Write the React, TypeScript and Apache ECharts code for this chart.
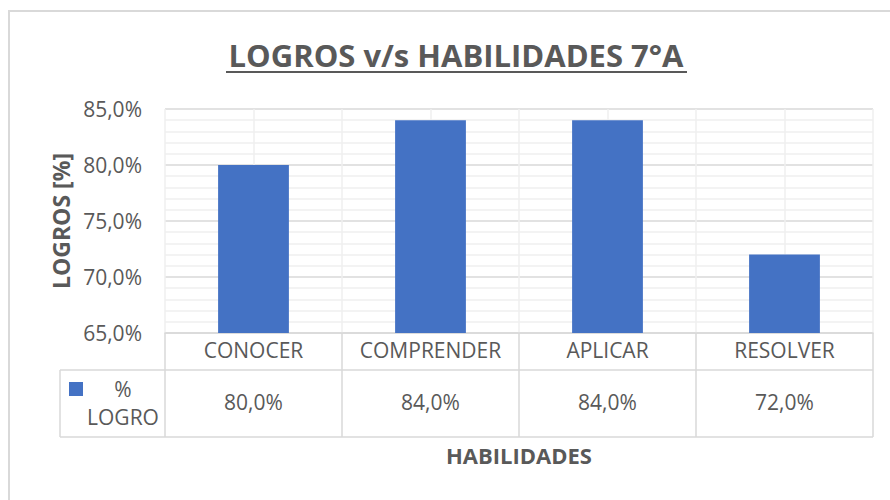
import React, { useEffect, useRef } from "react";
import * as echarts from "echarts";

const categories = ["CONOCER", "COMPRENDER", "APLICAR", "RESOLVER"];
const logro = [80.0, 84.0, 84.0, 72.0];
const seriesName = "% LOGRO";
const yMin = 65;
const yMax = 85;
const yStep = 5;

const TXT = "#595959";
const GRID_MAJOR = "#d9d9d9";
const GRID_MINOR = "#efefef";
const BAR = "#4472C4";
const FONT = "'Open Sans', 'Noto Sans', sans-serif";
const TITLE_FONT = "'Open Sans', 'Noto Sans', sans-serif";

const fmt = (v: number) => v.toFixed(1).replace(".", ",") + "%";

export default function App() {
  const ref = useRef<HTMLDivElement>(null);
  useEffect(() => {
    if (!ref.current) return;
    const chart = echarts.init(ref.current, undefined, { renderer: "svg" });
    const gl = 165, gr = 17, gt = 109, gb = 167;
    const plotRight = 890 - gr;
    chart.setOption({
      animation: false,
      backgroundColor: "#ffffff",
      grid: { left: gl, right: gr, top: gt, bottom: gb },
      xAxis: [
        {
          type: "category",
          data: categories,
          position: "bottom",
          axisLine: { show: true, lineStyle: { color: GRID_MAJOR, width: 1.5 } },
          axisTick: { show: true, interval: 0, length: 104, lineStyle: { color: GRID_MAJOR, width: 1.5 } },
          axisLabel: { margin: 6, fontSize: 21, color: TXT, fontFamily: FONT, interval: 0 },
          splitLine: { show: false },
          name: "HABILIDADES",
          nameLocation: "middle",
          nameGap: 111,
          nameTextStyle: { fontSize: 22, fontWeight: "bold", color: TXT, fontFamily: FONT },
        },
        {
          type: "category",
          data: categories,
          position: "bottom",
          axisLine: { show: false },
          axisTick: { show: false },
          axisLabel: {
            margin: 58,
            fontSize: 21,
            color: TXT,
            fontFamily: FONT,
            interval: 0,
            formatter: (_v: string, i: number) => fmt(logro[i]),
          },
          splitLine: { show: false },
        },
        {
          type: "value",
          min: 0,
          max: categories.length * 2,
          interval: 1,
          position: "top",
          axisLine: { show: false },
          axisTick: { show: false },
          axisLabel: { show: false },
          splitLine: { show: true, lineStyle: { color: GRID_MINOR, width: 1.5 } },
        },
      ],
      yAxis: {
        type: "value",
        min: yMin,
        max: yMax,
        interval: yStep,
        axisLine: { show: false },
        axisTick: { show: false },
        axisLabel: { margin: 23, fontSize: 21, color: TXT, fontFamily: FONT, formatter: (v: number) => fmt(v) },
        splitLine: { show: true, lineStyle: { color: GRID_MAJOR, width: 1.5 } },
        minorTick: { show: false, splitNumber: 5 },
        minorSplitLine: { show: true, lineStyle: { color: GRID_MINOR, width: 1.5 } },
        name: "LOGROS [%]",
        nameLocation: "middle",
        nameRotate: 90,
        nameGap: 93,
        nameTextStyle: { fontSize: 23, fontWeight: "bold", color: TXT, fontFamily: FONT },
      },
      series: [
        {
          name: seriesName,
          type: "bar",
          xAxisIndex: 0,
          data: logro,
          barWidth: "40%",
          itemStyle: { color: BAR },
        },
      ],
      graphic: [
        {
          type: "rect",
          shape: { x: 9, y: 11, width: 900, height: 520 },
          style: { fill: "none", stroke: GRID_MAJOR, lineWidth: 2 },
          silent: true,
        },
        {
          type: "text",
          x: 456,
          y: 55,
          style: {
            text: "LOGROS v/s HABILIDADES 7°A",
            fontSize: 31,
            fontWeight: "bold",
            fontFamily: TITLE_FONT,
            fill: TXT,
            align: "center",
            verticalAlign: "middle",
          },
        },
        {
          type: "line",
          shape: { x1: 226, y1: 72, x2: 687, y2: 72 },
          style: { stroke: TXT, lineWidth: 2 },
        },
        {
          type: "line",
          shape: { x1: 60, y1: 370, x2: plotRight, y2: 370 },
          style: { stroke: GRID_MAJOR, lineWidth: 1.5 },
        },
        {
          type: "line",
          shape: { x1: 60, y1: 437, x2: plotRight, y2: 437 },
          style: { stroke: GRID_MAJOR, lineWidth: 1.5 },
        },
        {
          type: "line",
          shape: { x1: 60, y1: 370, x2: 60, y2: 437 },
          style: { stroke: GRID_MAJOR, lineWidth: 1.5 },
        },
        {
          type: "rect",
          shape: { x: 69, y: 382, width: 14, height: 14 },
          style: { fill: BAR },
        },
        {
          type: "text",
          x: 123,
          y: 403,
          style: {
            text: "%\nLOGRO",
            fontSize: 21,
            lineHeight: 28,
            fontFamily: FONT,
            fill: TXT,
            align: "center",
            verticalAlign: "middle",
          },
        },
      ],
    });
    return () => chart.dispose();
  }, []);
  return <div ref={ref} style={{ position: "absolute", left: 0, top: 0, width: 890, height: 500 }} />;
}
